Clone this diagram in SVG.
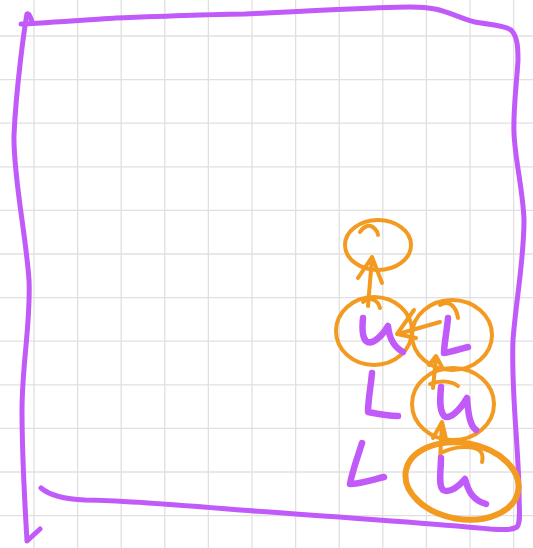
<svg xmlns="http://www.w3.org/2000/svg" width="533" height="548" viewBox="0 0 533 548">
<style>
.grid line{stroke:#e0e0e0;stroke-width:1.3}
.frame{fill:none;stroke:#c05af8;stroke-width:5;stroke-linecap:round;stroke-linejoin:round}
.ring{fill:none;stroke:#f39a20;stroke-width:4;stroke-linecap:round;stroke-linejoin:round}
.ring.thick{stroke-width:6}
.mark{fill:none;stroke:#c05af8;stroke-width:6.5;stroke-linecap:round;stroke-linejoin:round}
.conn path{fill:none;stroke:#f39a20;stroke-width:4;stroke-linecap:round;stroke-linejoin:round}
</style>
<rect width="533" height="548" fill="#ffffff"/>
<g class="grid">
<line x1="34" y1="0" x2="34" y2="548"/><line x1="77.6" y1="0" x2="77.6" y2="548"/><line x1="121.2" y1="0" x2="121.2" y2="548"/><line x1="164.8" y1="0" x2="164.8" y2="548"/><line x1="208.4" y1="0" x2="208.4" y2="548"/><line x1="252" y1="0" x2="252" y2="548"/><line x1="295.6" y1="0" x2="295.6" y2="548"/><line x1="339.2" y1="0" x2="339.2" y2="548"/><line x1="382.8" y1="0" x2="382.8" y2="548"/><line x1="426.4" y1="0" x2="426.4" y2="548"/><line x1="470" y1="0" x2="470" y2="548"/><line x1="513.6" y1="0" x2="513.6" y2="548"/>
<line x1="0" y1="36" x2="533" y2="36"/><line x1="0" y1="79.6" x2="533" y2="79.6"/><line x1="0" y1="123.2" x2="533" y2="123.2"/><line x1="0" y1="166.8" x2="533" y2="166.8"/><line x1="0" y1="210.4" x2="533" y2="210.4"/><line x1="0" y1="254" x2="533" y2="254"/><line x1="0" y1="297.6" x2="533" y2="297.6"/><line x1="0" y1="341.2" x2="533" y2="341.2"/><line x1="0" y1="384.8" x2="533" y2="384.8"/><line x1="0" y1="428.4" x2="533" y2="428.4"/><line x1="0" y1="472" x2="533" y2="472"/><line x1="0" y1="515.6" x2="533" y2="515.6"/>
</g>
<g id="frame">
<path class="frame" d="M 32 22 C 31 18 29 13 27 14 C 24 30 16 90 14 135 C 13 175 26 235 29 280 C 31 320 22 365 22 410 C 22 460 25 505 27 541 L 40 529"/>
<path class="frame" d="M 21 24 C 60 22 100 19 116 18 C 170 16 220 14 245 14 C 290 12 320 10 374 8 C 400 7 420 6 435 9 C 450 12 462 19 475 22 C 490 25 505 25 511 30 C 517 36 518 45 518 60 C 517 80 513 110 514 133 C 515 160 523 190 524 220 C 524 260 516 300 513 340 C 511 390 518 440 519 490 C 519 510 521 522 517 527 C 512 530 505 530 490 529 C 440 524 340 517 240 510 C 180 505 120 500 85 500 C 60 499 48 494 41 488"/>
</g>
<g id="connectors" class="conn">
<path d="M 368 306 L 372 258 M 358 278 L 372 257 L 382 283"/>
<path d="M 440 322 L 398 334 M 414 310 L 397 334 L 416 338"/>
<path d="M 433 388 L 436 357 M 429 365 L 436 356 L 443 369"/>
<path d="M 440 460 L 442 423 M 433 438 L 442 422 L 447 443"/>
</g>
<g id="node-top">
<ellipse class="ring" cx="378" cy="245" rx="33" ry="25"/>
<path class="ring" d="M 360 232 C 364 226 370 223 375 229 C 377 231 378 233 378 235"/>
</g>
<g id="node-u1">
<ellipse class="ring" cx="374" cy="331" rx="38" ry="34"/>
<path class="ring" d="M 363 302 C 370 296 378 300 380 308"/>
<path class="mark" d="M 363 318 C 362 328 362 337 366 341 C 372 346 382 336 388 326 C 389 336 392 346 403 352"/>
</g>
<g id="node-L1">
<ellipse class="ring" cx="452" cy="335" rx="40" ry="35"/>
<path class="ring" d="M 440 305 C 448 300 456 305 458 318"/>
<path class="mark" d="M 448 318 C 447 330 444 345 444 353 C 452 352 460 349 468 347"/>
</g>
<g id="node-u2">
<ellipse class="ring" cx="453" cy="404" rx="41" ry="36"/>
<path class="ring" d="M 430 384 C 440 380 452 381 458 386"/>
<path class="mark" d="M 441 387 C 440 398 439 410 444 416 C 450 420 460 410 467 398 C 468 410 469 425 476 430"/>
</g>
<g id="node-u3">
<ellipse class="ring thick" cx="462" cy="481" rx="57" ry="38" transform="rotate(10 462 481)"/>
<path class="ring" d="M 443 452 C 455 446 475 445 481 452 C 483 455 483 458 482 462"/>
<path class="mark" d="M 441 458 C 441 470 438 485 443 490 C 450 494 460 485 465 479 C 468 490 472 500 486 504"/>
</g>
<g id="mark-L2">
<path class="mark" d="M 372 373 C 371 385 368 400 368 412 C 378 414 388 416 398 416"/>
</g>
<g id="mark-L3">
<path class="mark" d="M 362 443 C 358 456 352 472 350 484 C 360 484 372 480 384 477"/>
</g>
</svg>
